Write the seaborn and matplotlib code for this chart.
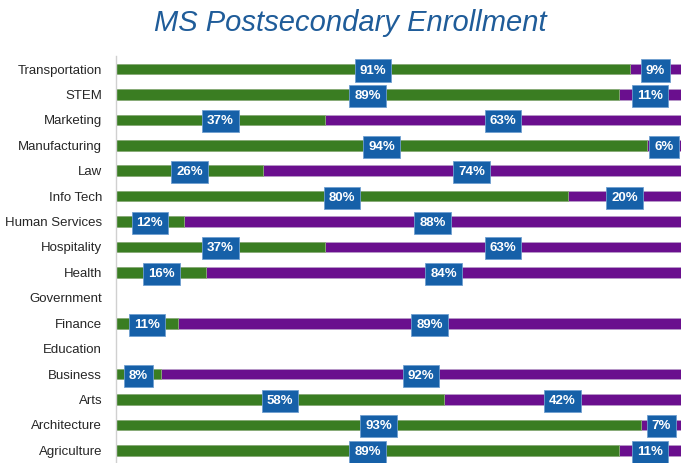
import numpy as np
import pandas as pd
import matplotlib
matplotlib.use("Agg")
import matplotlib.pyplot as plt
import seaborn as sns

categories = ["Transportation", "STEM", "Marketing", "Manufacturing", "Law", "Info Tech",
              "Human Services", "Hospitality", "Health", "Government", "Finance",
              "Education", "Business", "Arts", "Architecture", "Agriculture"]
share_a = [91, 89, 37, 94, 26, 80, 12, 37, 16, np.nan, 11, np.nan, 8, 58, 93, 89]
share_b = [9, 11, 63, 6, 74, 20, 88, 63, 84, np.nan, 89, np.nan, 92, 42, 7, 11]

df = pd.DataFrame({"cat": categories, "a": share_a, "b": share_b})
df["total"] = df["a"] + df["b"]

sns.set_style("white")
plt.rcParams["font.family"] = ["Liberation Sans", "DejaVu Sans"]

fig = plt.figure(figsize=(6.81, 4.63), dpi=100)
ax = fig.add_axes([116/681, 0.0, 565/681, (463-56.3)/463])

green = "#3A7D22"
purple = "#6A0F8E"
sns.barplot(data=df, y="cat", x="total", orient="h", color=purple, saturation=1,
            width=0.42, edgecolor="#B79AC8", linewidth=0.6, ax=ax, order=categories)
sns.barplot(data=df, y="cat", x="a", orient="h", color=green, saturation=1,
            width=0.42, edgecolor="#8DB37A", linewidth=0.6, ax=ax, order=categories)

ax.set_xlim(0, 100)
ax.set_ylim(len(categories) - 0.5, -0.5)
ax.set_xlabel("")
ax.set_ylabel("")
ax.set_xticks([])
for s in ["top", "right", "bottom"]:
    ax.spines[s].set_visible(False)
ax.spines["left"].set_color("#D0D0D0")
ax.spines["left"].set_linewidth(1.0)
ax.tick_params(axis="y", which="major", length=0, pad=10, labelsize=9.5, labelcolor="#262626")
ax.set_yticks(np.arange(len(categories) + 1) - 0.5, minor=True)
ax.tick_params(axis="y", which="minor", length=4, color="#D0D0D0", width=1.0)

box = dict(boxstyle="square,pad=0.38", fc="#1660A8", ec="#6F9FD0", lw=0.6)
for i, row in df.iterrows():
    if np.isnan(row["a"]):
        continue
    ax.text(row["a"] / 2, i, f"{int(row['a'])}%", ha="center", va="center_baseline",
            color="white", fontsize=9.5, fontweight="bold", bbox=box, clip_on=False)
    ax.text(row["a"] + row["b"] / 2, i, f"{int(row['b'])}%", ha="center", va="center_baseline",
            color="white", fontsize=9.5, fontweight="bold", bbox=box, clip_on=False)

fig.text(350/681, 1 - 23/463, "MS Postsecondary Enrollment", ha="center", va="center",
         fontsize=21, style="italic", color="#1F5C99")

fig.savefig("out.png", dpi=100)
